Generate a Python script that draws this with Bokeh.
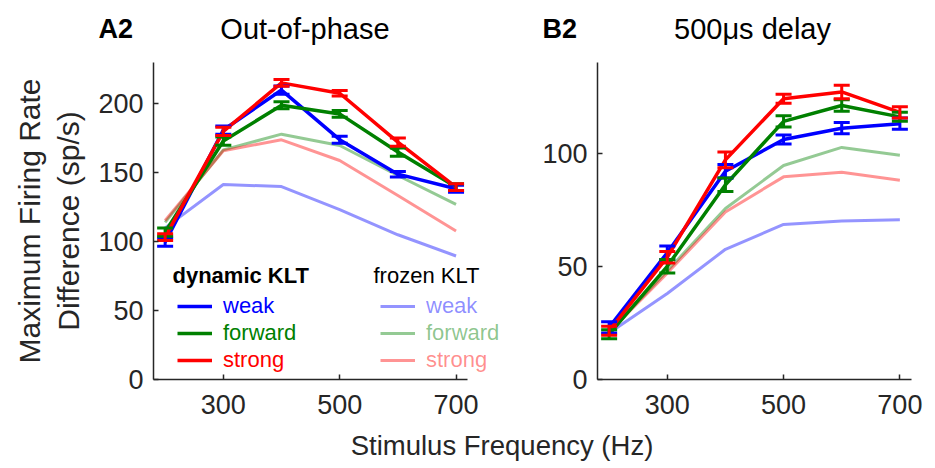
from bokeh.plotting import figure
from bokeh.models import (Range1d, FixedTicker, Whisker, TeeHead, ColumnDataSource,
                          Legend, LegendItem, Label)
from bokeh.layouts import column, row
from bokeh.embed import file_html
from bokeh.resources import INLINE

# ---------------- data ----------------
freqs = [200, 300, 400, 500, 600, 700]
x_ticks = [300, 500, 700]

# Panel A2: Out-of-phase
a_dyn_weak = [99.7, 181, 210, 174, 149, 138.4]
a_dyn_forward = [107, 173, 199, 192.7, 165, 139.6]
a_dyn_strong = [103.3, 180, 215.2, 207.7, 172.2, 139.6]
a_err_weak = [3, 3, 3, 2.5, 2, 2.5]
a_err_forward = [3, 3, 2.5, 2.5, 3, 2.5]
a_err_strong = [2.5, 3, 2.5, 2, 3, 2.5]
a_frz_weak = [110, 141.5, 140, 123.2, 105, 89.6]
a_frz_forward = [114, 166.6, 178, 169.8, 148, 127]
a_frz_strong = [115.4, 166, 173.9, 158.9, 133.5, 107.7]
a_y_ticks = [0, 50, 100, 150, 200]

# Panel B2: 500 us delay
b_dyn_weak = [23, 56, 92, 106, 111, 113]
b_dyn_forward = [20, 50, 86, 114, 121, 116]
b_dyn_strong = [21.5, 54, 97, 124, 127, 118]
b_err_weak = [2.5, 3, 3, 2, 2.5, 2.5]
b_err_forward = [2, 3, 3, 2.5, 2.5, 2]
b_err_strong = [2, 2.5, 3.5, 2, 3, 2.5]
b_frz_weak = [20.5, 38, 57.5, 68.5, 70, 70.5]
b_frz_forward = [21, 48, 75.5, 94.5, 102.5, 99]
b_frz_strong = [21, 47, 74, 89.5, 91.5, 88]
b_y_ticks = [0, 50, 100]

series_names = ["weak", "forward", "strong"]
colors = ["#0000ff", "#008000", "#ff0000"]

FONT = "Liberation Sans"
TXT = "#262626"


def style_axes(p, yticks):
    p.xaxis.ticker = FixedTicker(ticks=x_ticks)
    p.yaxis.ticker = FixedTicker(ticks=yticks)
    p.xaxis.bounds = (180, 720)
    for ax in (p.xaxis[0], p.yaxis[0]):
        ax.major_tick_in = 5
        ax.major_tick_out = 0
        ax.minor_tick_in = 0
        ax.minor_tick_out = 0
        ax.axis_line_color = TXT
        ax.axis_line_width = 1.5
        ax.major_tick_line_color = TXT
        ax.major_tick_line_width = 1.5
        ax.major_label_text_font = FONT
        ax.major_label_text_font_size = "27px"
        ax.major_label_text_color = TXT
    p.xaxis.major_label_standoff = 15
    p.yaxis.major_label_standoff = 10
    p.xgrid.visible = False
    p.ygrid.visible = False
    p.outline_line_color = None


def make_panel(width, border_left, border_right, xmax, ymax, yticks,
               dyn, errs, frz, with_legend=False, ylabel=None):
    p = figure(width=width, height=380, output_backend="svg", toolbar_location=None,
               x_range=Range1d(180, xmax), y_range=Range1d(0, ymax),
               min_border_left=border_left, min_border_right=border_right,
               min_border_top=17, min_border_bottom=46)
    p.background_fill_color = "white"
    p.border_fill_color = "white"
    style_axes(p, yticks)

    # frozen KLT (faint lines)
    frz_r = []
    for vals, c in zip(frz, colors):
        frz_r.append(p.line(freqs, vals, line_color=c, line_alpha=0.42, line_width=3))
    # dynamic KLT (lines with error bars)
    dyn_r = []
    for vals, err, c in zip(dyn, errs, colors):
        src = ColumnDataSource(dict(x=freqs, y=vals,
                                    lo=[v - e for v, e in zip(vals, err)],
                                    hi=[v + e for v, e in zip(vals, err)]))
        r = p.line("x", "y", source=src, line_color=c, line_width=3.5)
        w = Whisker(source=src, base="x", lower="lo", upper="hi",
                    line_color=c, line_width=3, level="glyph",
                    upper_head=TeeHead(size=16, line_color=c, line_width=3),
                    lower_head=TeeHead(size=16, line_color=c, line_width=3))
        p.add_layout(w)
        dyn_r.append(r)

    if ylabel is not None:
        p.yaxis.axis_label = ylabel
        p.yaxis.axis_label_text_font = FONT
        p.yaxis.axis_label_text_font_size = "30px"
        p.yaxis.axis_label_text_font_style = "normal"
        p.yaxis.axis_label_text_color = TXT
        p.yaxis.axis_label_standoff = 10

    if with_legend:
        p.add_layout(Label(x=19, y=104, x_units="screen", y_units="screen",
                           text="dynamic KLT", text_font=FONT, text_font_size="22px",
                           text_font_style="bold", text_color="black",
                           text_baseline="middle"))
        p.add_layout(Label(x=220, y=104, x_units="screen", y_units="screen",
                           text="frozen KLT", text_font=FONT, text_font_size="22px",
                           text_color="black", text_baseline="middle"))
        rows_y = [60, 33, 6]
        for name, c, ry, rd, rf in zip(series_names, colors, rows_y, dyn_r, frz_r):
            for sw, lx, alpha in ((rd, 24, 1.0), (rf, 227, 0.45)):
                lg = Legend(items=[LegendItem(label=name, renderers=[sw])],
                            location=(lx, ry), orientation="vertical",
                            glyph_width=35, glyph_height=24, label_height=24,
                            label_standoff=11, padding=0, margin=0, spacing=0,
                            label_text_font=FONT, label_text_font_size="22px",
                            label_text_color=c, label_text_alpha=alpha,
                            background_fill_alpha=0, border_line_alpha=0)
                p.add_layout(lg)
    return p


pA = make_panel(535, 153, 30, 785, 230, a_y_ticks,
                [a_dyn_weak, a_dyn_forward, a_dyn_strong],
                [a_err_weak, a_err_forward, a_err_strong],
                [a_frz_weak, a_frz_forward, a_frz_strong],
                with_legend=True,
                ylabel="Maximum Firing Rate\nDifference (sp/s)")
pB = make_panel(396, 62, 20, 720, 140, b_y_ticks,
                [b_dyn_weak, b_dyn_forward, b_dyn_strong],
                [b_err_weak, b_err_forward, b_err_strong],
                [b_frz_weak, b_frz_forward, b_frz_strong])


def text_strip(height):
    f = figure(width=931, height=height, output_backend="svg", toolbar_location=None,
               x_range=Range1d(0, 931), y_range=Range1d(0, height),
               min_border=0, min_border_left=0, min_border_right=0,
               min_border_top=0, min_border_bottom=0,
               x_axis_type=None, y_axis_type=None)
    f.outline_line_color = None
    f.xgrid.visible = False
    f.ygrid.visible = False
    f.background_fill_color = "white"
    f.border_fill_color = "white"
    return f


# panel tags and titles
pT = text_strip(45)
for tx, txt, bold, size, align in ((98, "A2", True, "27px", "left"),
                                   (304.5, "Out-of-phase", False, "29px", "center"),
                                   (542, "B2", True, "27px", "left"),
                                   (752, "500\u03bcs delay", False, "29px", "center")):
    pT.add_layout(Label(x=tx, y=17, text=txt, text_font=FONT, text_font_size=size,
                        text_font_style="bold" if bold else "normal",
                        text_color="black", text_align=align, text_baseline="middle"))

# shared x-axis label
pX = text_strip(40)
pX.add_layout(Label(x=501.5, y=20, text="Stimulus Frequency (Hz)", text_font=FONT,
                    text_font_size="27.5px", text_color=TXT, text_align="center",
                    text_baseline="middle"))

layout = column(pT, row(pA, pB, spacing=0), pX, spacing=0)
open("out.html", "w").write(file_html(layout, INLINE))
